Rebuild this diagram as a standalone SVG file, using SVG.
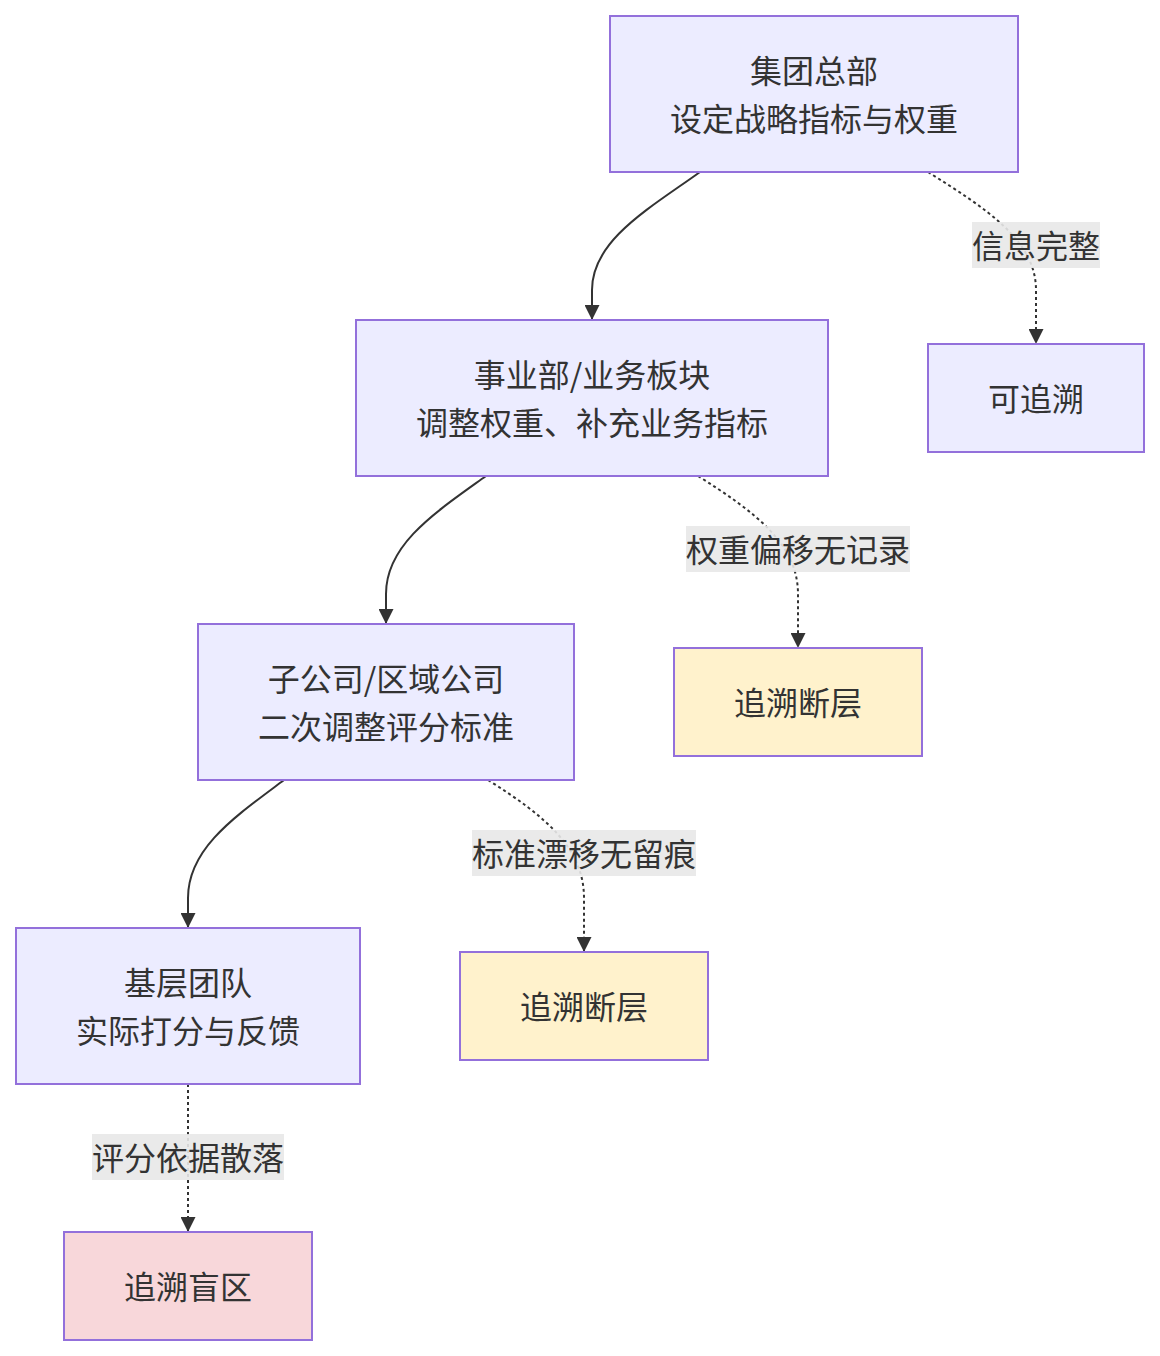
<svg xmlns="http://www.w3.org/2000/svg" width="1160" height="1356" viewBox="0 0 1160 1356">
<defs>
<style>
.node rect{fill:#ECECFF;stroke:#9370DB;stroke-width:2}
.node.warn rect{fill:#FFF2CC}
.node.bad rect{fill:#F8D7DA}
text{font-family:"Noto Sans CJK SC","Noto Sans",sans-serif;font-size:32px;fill:#333;text-anchor:middle;dominant-baseline:central}
.edge{fill:none;stroke:#333;stroke-width:2}
.dash{stroke-dasharray:3,3}
.lbl rect{fill:#E8E8E8;fill-opacity:0.9;stroke:none}
</style>
<marker id="arr" viewBox="0 0 10 10" refX="10" refY="5" markerUnits="userSpaceOnUse" markerWidth="15" markerHeight="15" orient="auto">
<path d="M0,0 L10,5 L0,10 z" fill="#333"/>
</marker>
</defs>
<rect width="1160" height="1356" fill="#fff"/>
<g id="connectors">
<path class="edge" d="M700,172 C650,208 592,240 592,290 L592,320" marker-end="url(#arr)"/>
<path class="edge dash" d="M928,172 C985,208 1036,240 1036,290 L1036,344" marker-end="url(#arr)"/>
<path class="edge" d="M486,476 C436,512 386,544 386,594 L386,624" marker-end="url(#arr)"/>
<path class="edge dash" d="M698,476 C755,512 798,544 798,594 L798,648" marker-end="url(#arr)"/>
<path class="edge" d="M284,780 C236,816 188,848 188,898 L188,928" marker-end="url(#arr)"/>
<path class="edge dash" d="M488,780 C545,816 584,848 584,898 L584,952" marker-end="url(#arr)"/>
<path class="edge dash" d="M188,1084 L188,1232" marker-end="url(#arr)"/>
<g class="lbl"><rect x="972" y="222" width="128" height="46"/><text x="1036" y="244">信息完整</text></g>
<g class="lbl"><rect x="686" y="526" width="224" height="46"/><text x="798" y="548">权重偏移无记录</text></g>
<g class="lbl"><rect x="472" y="830" width="224" height="46"/><text x="584" y="852">标准漂移无留痕</text></g>
<g class="lbl"><rect x="92" y="1134" width="192" height="46"/><text x="188" y="1156">评分依据散落</text></g>
</g>
<g id="n1" class="node"><rect x="610" y="16" width="408" height="156"/><text x="814" y="69">集团总部</text><text x="814" y="117">设定战略指标与权重</text></g>
<g id="n2" class="node"><rect x="356" y="320" width="472" height="156"/><text x="592" y="373">事业部/业务板块</text><text x="592" y="421">调整权重、补充业务指标</text></g>
<g id="n3" class="node"><rect x="928" y="344" width="216" height="108"/><text x="1036" y="397">可追溯</text></g>
<g id="n4" class="node"><rect x="198" y="624" width="376" height="156"/><text x="386" y="677">子公司/区域公司</text><text x="386" y="725">二次调整评分标准</text></g>
<g id="n5" class="node warn"><rect x="674" y="648" width="248" height="108"/><text x="798" y="701">追溯断层</text></g>
<g id="n6" class="node"><rect x="16" y="928" width="344" height="156"/><text x="188" y="981">基层团队</text><text x="188" y="1029">实际打分与反馈</text></g>
<g id="n7" class="node warn"><rect x="460" y="952" width="248" height="108"/><text x="584" y="1005">追溯断层</text></g>
<g id="n8" class="node bad"><rect x="64" y="1232" width="248" height="108"/><text x="188" y="1285">追溯盲区</text></g>
</svg>
